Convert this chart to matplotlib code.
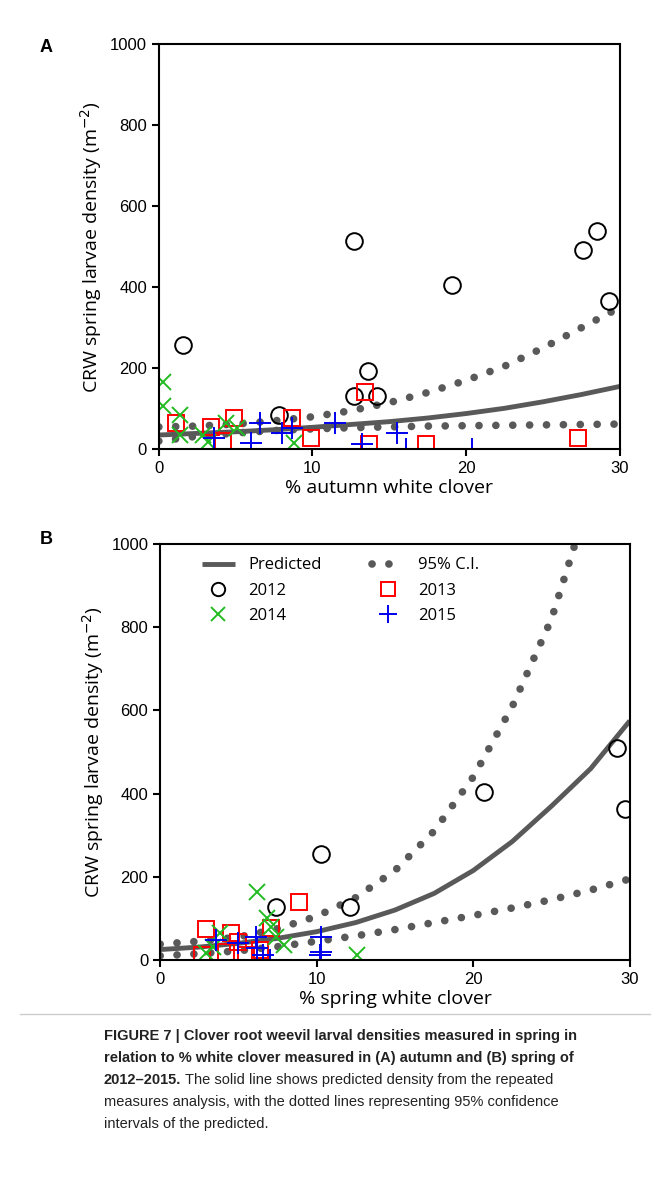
import numpy as np
import matplotlib.pyplot as plt

plt.rcParams['font.family'] = ['Liberation Sans', 'DejaVu Sans']

# ---- panel A: autumn white clover ----
a_2012_x = [1.6, 7.8, 12.7, 13.6, 12.7, 14.2, 19.1, 27.6, 28.5, 29.3]
a_2012_y = [257, 84, 514, 193, 131, 131, 405, 491, 538, 365]
a_2013_x = [1.15, 3.4, 4.2, 4.9, 8.7, 9.9, 13.4, 13.7, 17.4, 27.3]
a_2013_y = [64, 54, 20, 77, 77, 27, 141, 12, 12, 27]
a_2014_x = [0.26, 0.26, 1.4, 1.4, 2.9, 3.2, 4.4, 5.1, 8.8]
a_2014_y = [165, 106, 84, 35, 35, 17, 64, 52, 15]
a_2015_x = [3.6, 6.0, 6.6, 8.0, 8.7, 11.5, 13.2, 15.5, 16.1, 20.4]
a_2015_y = [27, 15, 64, 40, 52, 64, 12, 40, 0, 0]
a_curve_x = [0, 2.5, 5, 7.5, 10, 12.5, 15, 17.5, 20, 22.5, 25, 27.5, 30]
a_pred = [35, 39, 43, 48, 54, 61, 68, 77, 88, 101, 117, 135, 155]
a_upper = [55, 57, 62, 70, 80, 95, 115, 140, 170, 205, 250, 300, 350]
a_lower = [20, 32, 40, 46, 50, 53, 55, 57, 58, 59, 60, 61, 62]

# ---- panel B: spring white clover ----
b_2012_x = [7.4, 10.3, 12.1, 20.7, 29.2, 29.7]
b_2012_y = [128, 255, 128, 404, 510, 363]
b_2013_x = [2.9, 2.7, 4.5, 4.2, 5.5, 6.4, 7.1, 8.9, 5.0]
b_2013_y = [75, 12, 65, 20, 12, 24, 77, 140, 43]
b_2014_x = [6.2, 6.8, 7.1, 3.8, 2.9, 7.9, 7.4, 12.6, 3.4]
b_2014_y = [164, 101, 80, 65, 17, 36, 55, 12, 31]
b_2015_x = [3.6, 5.0, 6.1, 6.2, 6.6, 7.0, 10.3, 10.3, 10.2]
b_2015_y = [48, 41, 55, 29, 12, 0, 55, 20, 12]
b_curve_x = [0, 2.5, 5, 7.5, 10, 12.5, 15, 17.5, 20, 22.5, 25, 27.5, 30]
b_pred = [25, 31, 40, 52, 68, 90, 120, 160, 215, 285, 370, 460, 575]
b_upper_x = [0, 2.5, 5, 7.5, 10, 12.5, 15, 17.5, 20, 22.5, 25, 26.5]
b_upper = [38, 45, 55, 75, 105, 150, 215, 310, 440, 610, 820, 1000]
b_lower = [10, 15, 22, 32, 45, 58, 73, 90, 107, 125, 145, 168, 195]

fig = plt.figure(figsize=(6.7, 12.01), dpi=100)
dots = dict(color='#595959', linestyle=(0, (0.01, 2.2)), linewidth=5.5,
            dash_capstyle='round')
mk = dict(linestyle='none', markersize=12, markerfacecolor='none',
          markeredgewidth=1.4)


def draw(ax, data, cx, pred, ux, upper, lower, xlabel):
    h = {}
    h['Predicted'], = ax.plot(cx, pred, color='#595959', linewidth=3.5,
                              solid_capstyle='butt')
    h['95% C.I.'], = ax.plot(ux, upper, **dots)
    ax.plot(cx, lower, **dots)
    (x12, y12), (x13, y13), (x14, y14), (x15, y15) = data
    h['2012'], = ax.plot(x12, y12, marker='o', color='black', **mk)
    h['2013'], = ax.plot(x13, y13, marker='s', color='red', **mk)
    h['2014'], = ax.plot(x14, y14, marker='x', color='#22bb22', **mk)
    h['2015'], = ax.plot(x15, y15, marker='+', color='#0000ee',
                         **dict(mk, markersize=16))
    ax.set_xlim(0, 30)
    ax.set_ylim(0, 1000)
    ax.set_xticks([0, 10, 20, 30])
    ax.set_yticks(range(0, 1001, 200))
    ax.tick_params(labelsize=12, width=1.5, length=5)
    for s in ax.spines.values():
        s.set_linewidth(1.5)
    ax.set_xlabel(xlabel, fontsize=14, family='Open Sans', labelpad=2)
    ax.set_ylabel('CRW spring larvae density (m$^{-2}$)', fontsize=14,
                  family='Open Sans')
    return h


axa = fig.add_axes([0.237, 0.626, 0.688, 0.337])
axb = fig.add_axes([0.239, 0.2007, 0.701, 0.3463])
draw(axa, [(a_2012_x, a_2012_y), (a_2013_x, a_2013_y), (a_2014_x, a_2014_y),
           (a_2015_x, a_2015_y)], a_curve_x, a_pred, a_curve_x, a_upper,
     a_lower, '% autumn white clover')
hb = draw(axb, [(b_2012_x, b_2012_y), (b_2013_x, b_2013_y), (b_2014_x, b_2014_y),
                (b_2015_x, b_2015_y)], b_curve_x, b_pred, b_upper_x, b_upper,
          b_lower, '% spring white clover')
# column-major order so rows read Predicted|95% C.I., 2012|2013, 2014|2015
order = ['Predicted', '2012', '2014', '95% C.I.', '2013', '2015']
axb.legend([hb[k] for k in order], order, ncol=2, loc='upper left',
           bbox_to_anchor=(0.06, 1.0), frameon=False, columnspacing=3.0,
           handlelength=2.0, labelspacing=0.55, borderpad=0.3,
           markerscale=0.8, prop={'family': 'Open Sans', 'size': 12})

fig.text(40 / 670, 1 - 47 / 1201, 'A', fontsize=13, fontweight='bold', va='center')
fig.text(40 / 670, 1 - 540 / 1201, 'B', fontsize=13, fontweight='bold', va='center')

# separator above the caption
fig.add_artist(plt.Line2D([0.03, 0.97], [1 - 1014 / 1201] * 2,
                          color='#cccccc', linewidth=1))

cap_x = 104 / 670
cap = dict(fontsize=10.5, va='center', color='#222222')
fig.text(cap_x, 1 - 1036 / 1201,
         'FIGURE 7 | Clover root weevil larval densities measured in spring in',
         fontweight='bold', **cap)
fig.text(cap_x, 1 - 1058 / 1201,
         'relation to % white clover measured in (A) autumn and (B) spring of',
         fontweight='bold', **cap)
t = fig.text(cap_x, 1 - 1080 / 1201, '2012\u20132015.', fontweight='bold', **cap)
fig.canvas.draw()
bb = t.get_window_extent()
fig.text((bb.x1 + 4) / 670, 1 - 1080 / 1201,
         'The solid line shows predicted density from the repeated', **cap)
fig.text(cap_x, 1 - 1102 / 1201,
         'measures analysis, with the dotted lines representing 95% confidence',
         **cap)
fig.text(cap_x, 1 - 1124 / 1201, 'intervals of the predicted.', **cap)

fig.savefig('out.png', dpi=100)
